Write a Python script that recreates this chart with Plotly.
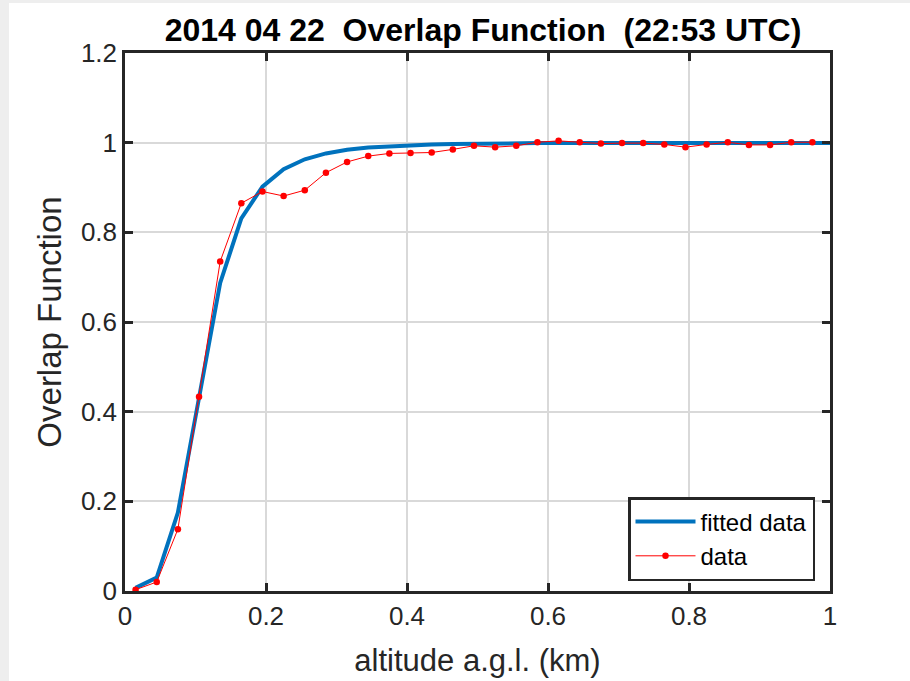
import plotly.graph_objects as go

altitude = [0.015 + 0.03 * i for i in range(33)]
data_vals = [0.003, 0.02, 0.138, 0.433, 0.735, 0.865, 0.891, 0.881, 0.894, 0.933,
             0.957, 0.970, 0.976, 0.977, 0.978, 0.985, 0.993, 0.990, 0.993, 1.001,
             1.004, 1.001, 0.998, 0.999, 0.999, 0.996, 0.990, 0.996, 1.001, 0.995,
             0.995, 1.001, 1.001]

fit_alt = altitude + [1.0]
fit_vals = [0.007, 0.03, 0.175, 0.43, 0.687, 0.831, 0.902, 0.941, 0.963, 0.976,
            0.984, 0.989, 0.992, 0.994, 0.996, 0.997, 0.998, 0.998, 0.999, 0.999,
            0.999, 0.999, 0.999, 0.999, 0.999, 0.999, 0.999, 0.999, 0.999, 0.999,
            0.999, 0.999, 0.999, 0.999]

x_ticks = [0, 0.2, 0.4, 0.6, 0.8, 1]
x_labels = ["0", "0.2", "0.4", "0.6", "0.8", "1"]
y_ticks = [0, 0.2, 0.4, 0.6, 0.8, 1, 1.2]
y_labels = ["0", "0.2", "0.4", "0.6", "0.8", "1", "1.2"]

FONT = "Liberation Sans, Arial, Helvetica, sans-serif"
AX = "#262626"

fig = go.Figure()
fig.add_trace(go.Scatter(x=fit_alt, y=fit_vals, mode="lines", name="fitted data",
                         line=dict(color="#0072BD", width=4)))
fig.add_trace(go.Scatter(x=altitude, y=data_vals, mode="lines+markers", name="data",
                         line=dict(color="#FF0000", width=1),
                         marker=dict(color="#FF0000", size=6.5)))

W, H = 910, 681
L, R, T, B = 125, 80, 53, 90
pw, ph = W - L - R, H - T - B

def px2paper_x(px):
    return (px - L) / pw

def px2paper_y(py):
    return (H - B - py) / ph

fig.add_shape(type="rect", xref="paper", yref="paper", layer="below",
              x0=px2paper_x(9), x1=px2paper_x(W + 5), y0=px2paper_y(H + 5), y1=px2paper_y(3),
              fillcolor="white", line=dict(width=0))

axis_common = dict(showgrid=True, gridcolor="#d9d9d9", gridwidth=1.5,
                   showline=True, linecolor=AX, linewidth=2.5, mirror="ticks",
                   ticks="inside", ticklen=8, tickwidth=2.5, tickcolor=AX,
                   zeroline=False, automargin=False,
                   tickfont=dict(family=FONT, size=26, color=AX))

fig.update_xaxes(range=[0, 1], tickvals=x_ticks, ticktext=x_labels,
                 title=dict(text="altitude a.g.l. (km)", font=dict(family=FONT, size=31, color=AX),
                            standoff=20),
                 **axis_common)
fig.update_yaxes(range=[0, 1.2], tickvals=y_ticks, ticktext=y_labels,
                 title=dict(text="Overlap Function", font=dict(family=FONT, size=33, color=AX),
                            standoff=10),
                 **axis_common)

fig.update_layout(
    width=W, height=H,
    margin=dict(l=L, r=R, t=T, b=B),
    paper_bgcolor="#eeeeee", plot_bgcolor="white",
    title=dict(text="<b>2014 04 22  Overlap Function  (22:53 UTC)</b>",
               font=dict(family=FONT, size=32, color="black"),
               x=px2paper_x(483), xanchor="center", xref="paper",
               y=1 - 30 / H, yanchor="middle"),
    legend=dict(x=px2paper_x(815), y=px2paper_y(497), xanchor="right", yanchor="top",
                bgcolor="white", bordercolor=AX, borderwidth=2.5,
                font=dict(family=FONT, size=24, color="black"),
                itemwidth=60, tracegroupgap=0),
    showlegend=True,
)

fig.write_html("out.html")
